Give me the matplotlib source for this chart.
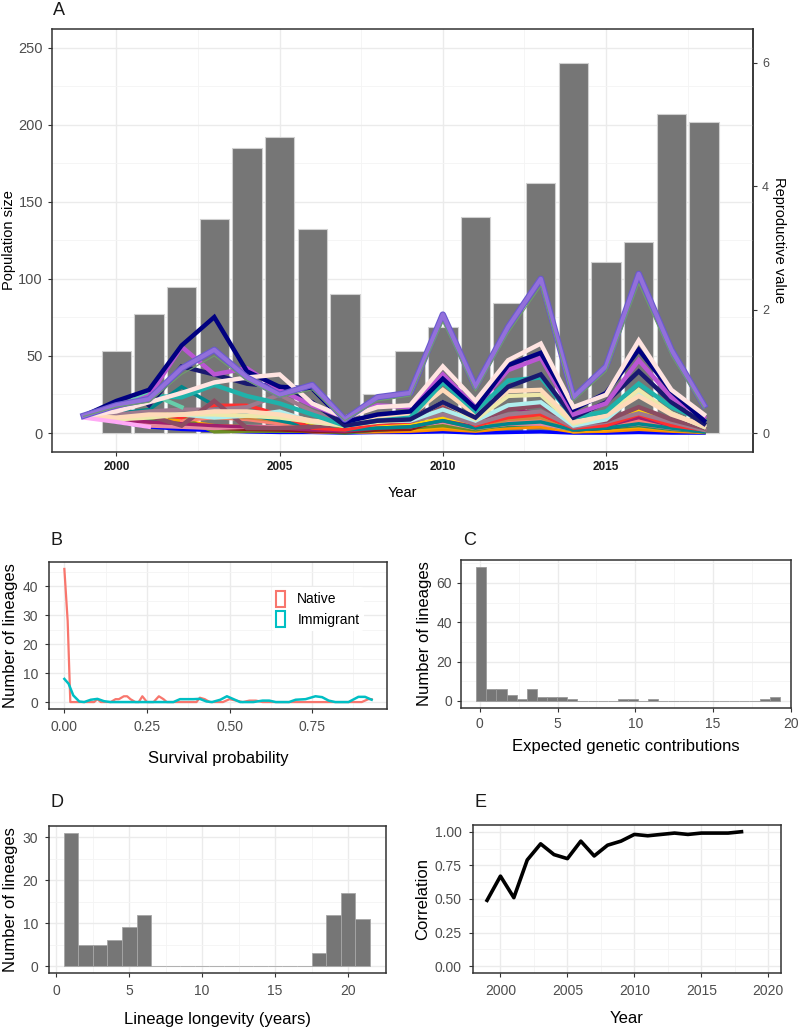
import numpy as np
import matplotlib
matplotlib.use("Agg")
import matplotlib.pyplot as plt
from matplotlib.patches import Patch

plt.rcParams['font.family'] = ['Liberation Sans', 'DejaVu Sans']

""" Panel A data """
bar_years = list(range(2000, 2019))
pop_size = [53, 77, 95, 139, 185, 192, 132, 90, 25, 53, 69, 140, 84, 162, 240, 111, 124, 207, 202]

line_years = list(range(1999, 2019))
# reproductive value of each lineage (None = lineage not yet present / gone)
rv_blue = [0.28, 0.18, 0.1, 0.06, 0.04, 0.02, 0.01, 0.01, 0.0, 0.01, 0.01, 0.02, 0.0, 0.01, 0.02, 0.0, 0.0, 0.01, 0.0, 0.0]
rv_darkorange = [0.28, 0.22, 0.18, 0.15, 0.1, 0.08, 0.05, 0.02, 0.01, 0.02, 0.03, 0.06, 0.03, 0.08, 0.1, 0.02, 0.03, 0.06, 0.03, 0.01]
rv_orange = [0.28, 0.25, 0.22, 0.2, 0.12, 0.1, 0.08, 0.05, 0.02, 0.05, 0.05, 0.1, 0.05, 0.12, 0.15, 0.02, 0.05, 0.1, 0.05, 0.02]
rv_seagreen = [0.28, 0.25, 0.2, 0.15, 0.05, 0.08, 0.06, 0.04, 0.0, 0.05, 0.08, 0.15, 0.08, 0.12, 0.15, 0.05, 0.08, 0.12, 0.06, 0.02]
rv_olive = [0.28, 0.3, 0.38, 0.25, 0.02, 0.03, 0.03, 0.03, 0.02, 0.05, 0.08, 0.12, 0.05, 0.15, 0.2, 0.05, 0.08, 0.15, 0.08, 0.02]
rv_darkred = [0.28, 0.2, 0.15, 0.12, 0.08, 0.06, 0.05, 0.03, 0.02, 0.05, 0.06, 0.22, 0.1, 0.18, 0.22, 0.05, 0.08, 0.15, 0.08, 0.03]
rv_lightpink = [0.28, 0.2, 0.12, 0.1, 0.08, 0.1, 0.1, 0.1, 0.1, 0.12, 0.12, 0.18, 0.08, 0.15, 0.15, 0.06, 0.1, 0.15, 0.08, 0.04]
rv_paleviolet = [None, None, None, None, None, None, None, None, 0.08, 0.12, 0.12, 0.2, 0.1, 0.15, 0.2, 0.08, 0.12, 0.22, 0.12, 0.05]
rv_salmon = [None, None, None, 0.2, 0.25, 0.22, 0.15, 0.1, 0.08, 0.1, 0.1, 0.22, 0.1, 0.2, 0.22, 0.08, 0.1, 0.2, 0.1, 0.05]
rv_peru = [0.28, 0.24, 0.26, 0.28, 0.25, 0.25, 0.2, 0.1, 0.05, 0.1, 0.12, 0.2, 0.08, 0.22, 0.25, 0.06, 0.1, 0.28, 0.15, 0.05]
rv_gold = [0.28, 0.26, 0.28, 0.3, 0.3, 0.32, 0.28, 0.15, 0.08, 0.12, 0.12, 0.25, 0.1, 0.28, 0.3, 0.08, 0.15, 0.38, 0.18, 0.06]
rv_violetred = [0.28, 0.2, 0.18, 0.15, 0.12, 0.1, 0.08, 0.05, 0.03, 0.08, 0.1, 0.2, 0.1, 0.42, 0.3, 0.08, 0.12, 0.25, 0.12, 0.03]
rv_darkcyan = [0.28, 0.32, 0.38, 0.75, 0.45, 0.3, 0.2, 0.1, 0.05, 0.08, 0.1, 0.2, 0.08, 0.15, 0.18, 0.05, 0.08, 0.15, 0.08, 0.02]
rv_red = [0.28, 0.3, 0.32, 0.25, 0.45, 0.45, 0.3, 0.08, 0.05, 0.15, 0.18, 0.42, 0.12, 0.25, 0.3, 0.08, 0.12, 0.3, 0.12, 0.05]
rv_mauve = [0.28, 0.3, 0.35, 0.38, 0.38, 0.42, 0.62, 0.35, 0.15, 0.18, 0.2, 0.3, 0.15, 0.3, 0.35, 0.1, 0.18, 0.32, 0.18, 0.05]
rv_rosewood = [None, None, 0.28, 0.12, 0.52, 0.08, 0.08, 0.1, 0.15, 0.25, 0.32, 0.4, 0.22, 0.38, 0.45, 0.15, 0.2, 0.42, 0.22, 0.08]
rv_paleturq = [0.25, 0.22, 0.28, 0.3, 0.25, 0.28, 0.35, 0.18, 0.12, 0.2, 0.2, 0.38, 0.2, 0.45, 0.5, 0.12, 0.22, 0.65, 0.32, 0.1]
rv_khaki = [0.28, 0.22, 0.25, 0.3, 0.3, 0.28, 0.25, 0.18, 0.12, 0.18, 0.22, 0.5, 0.22, 0.6, 0.62, 0.15, 0.28, 0.7, 0.32, 0.1]
rv_peach = [0.28, 0.25, 0.3, 0.3, 0.35, 0.35, 0.3, 0.2, 0.15, 0.25, 0.28, 0.7, 0.3, 0.68, 0.7, 0.18, 0.28, 0.6, 0.3, 0.12]
rv_pink = [0.25, 0.18, 0.1, None, None, None, None, None, None, None, None, None, None, None, None, None, None, None, None, None]
rv_aquamarine = [0.28, 0.42, 0.65, 0.42, None, None, None, None, None, None, None, None, None, None, None, None, None, None, None, None]
rv_teal = [0.28, 0.38, 0.6, 0.58, 0.78, 0.6, 0.48, 0.3, 0.12, 0.2, 0.25, 0.82, 0.35, 0.85, 0.9, 0.25, 0.35, 0.8, 0.42, 0.2]
rv_midnight = [None, None, 0.45, 1.08, 0.95, 0.8, 0.75, 0.5, 0.12, 0.2, 0.22, 0.5, 0.25, 0.75, 0.95, 0.25, 0.5, 1.0, 0.5, 0.15]
rv_orchid = [0.28, 0.4, 0.6, 1.4, 0.95, 1.05, 0.7, 0.45, 0.25, 0.45, 0.42, 0.95, 0.42, 1.02, 1.22, 0.3, 0.48, 1.18, 0.58, 0.25]
rv_navy = [0.28, 0.52, 0.7, 1.42, 1.88, 1.0, 0.75, 0.72, 0.18, 0.3, 0.35, 0.88, 0.4, 1.1, 1.3, 0.38, 0.65, 1.35, 0.68, 0.2]
rv_misty = [0.28, 0.35, 0.5, 0.65, 0.82, 0.9, 0.95, 0.48, 0.25, 0.42, 0.45, 1.08, 0.52, 1.18, 1.45, 0.42, 0.62, 1.5, 0.7, 0.3]
rv_purple = [0.28, 0.45, 0.55, 1.05, 1.35, 0.9, 0.62, 0.78, 0.22, 0.58, 0.65, 1.92, 0.75, 1.72, 2.5, 0.58, 1.08, 2.58, 1.35, 0.45]
rv_sage = [0.27, 0.42, 0.5, 0.95, 1.25, 0.85, 0.58, 0.7, 0.2, 0.52, 0.6, 1.8, 0.68, 1.62, 2.38, 0.52, 1.0, 2.42, 1.25, 0.4]

""" Panel B data (frequency polygons) """
native_x = [0.0, 0.01, 0.018, 0.09, 0.1, 0.11, 0.14, 0.155, 0.165, 0.18, 0.19, 0.2, 0.215, 0.225, 0.236, 0.25,
            0.27, 0.286, 0.3, 0.31, 0.4, 0.41, 0.425, 0.44, 0.48, 0.5, 0.52, 0.54, 0.56, 0.58, 0.6, 0.9, 0.92, 0.93]
native_n = [46, 28, 0, 0, 1, 0, 0, 1, 1, 2, 2, 1, 0, 0, 2, 0,
            0, 2, 1, 0, 0, 1.5, 1, 0, 0, 1, 0.5, 0, 0.5, 0.5, 0, 0, 1, 1]
immigrant_x = [0.0, 0.013, 0.027, 0.045, 0.06, 0.08, 0.1, 0.12, 0.14, 0.33, 0.35, 0.39, 0.41, 0.43, 0.447, 0.472,
               0.492, 0.512, 0.532, 0.572, 0.6, 0.62, 0.64, 0.68, 0.7, 0.73, 0.76, 0.78, 0.8, 0.82, 0.86, 0.89,
               0.91, 0.93]
immigrant_n = [8, 6.3, 2.3, 0.2, 0, 0.8, 1.1, 0.3, 0, 0, 1, 1, 1.1, 0.2, 0, 0.8,
               2, 1, 0, 0, 0.5, 0.5, 0, 0, 0.8, 1, 2, 1.7, 0.5, 0, 0, 1.8,
               1.8, 0.8]

""" Panel C data (histogram, 30 bins) """
contrib_counts = [68, 6, 6, 3, 1, 6, 2, 2, 2, 1, 0, 0, 0, 0, 1, 1, 0, 1, 0, 0,
                  0, 0, 0, 0, 0, 0, 0, 0, 1, 2]
contrib_start = -0.22
contrib_binwidth = 0.65

""" Panel D data """
longevity_years = list(range(1, 22))
longevity_counts = [31, 5, 5, 6, 9, 12, 0, 0, 0, 0, 0, 0, 0, 0, 0, 0, 0, 3, 12, 17, 11]

""" Panel E data """
corr_years = list(range(1999, 2019))
correlation = [0.49, 0.67, 0.51, 0.79, 0.91, 0.83, 0.80, 0.93, 0.82, 0.90, 0.93, 0.98, 0.97, 0.98, 0.99, 0.98,
               0.99, 0.99, 0.99, 1.0]

RV_SCALE = 40  # population units per unit of reproductive value
BORDER = '#333333'
GRID = '#EBEBEB'
TICKLAB = '#4D4D4D'
BAR = '#767676'


def theme_bw(ax, xmaj, xmin, ymaj, ymin, labelsize=8.5, pad=3.5):
    ax.set_xticks(xmaj)
    ax.set_xticks(xmin, minor=True)
    ax.set_yticks(ymaj)
    ax.set_yticks(ymin, minor=True)
    ax.grid(which='major', color=GRID, lw=1.0)
    ax.grid(which='minor', color='#F4F4F4', lw=0.6)
    ax.set_axisbelow(True)
    ax.tick_params(which='minor', length=0)
    ax.tick_params(which='major', length=3, width=0.8, color=BORDER, labelcolor=TICKLAB,
                   labelsize=labelsize, pad=pad)
    for s in ax.spines.values():
        s.set_color(BORDER)
        s.set_linewidth(1.1)


fig = plt.figure(figsize=(8, 10.29), dpi=100)

# ---------------- A ----------------
axA = fig.add_axes([52 / 800, 1 - 452 / 1029, 701 / 800, 423 / 1029])
axA.bar(bar_years, pop_size, width=0.9, color=BAR, edgecolor='#D0D0D0', lw=0.8, zorder=2)

lineages = [
    (rv_blue, '#0000FF', 2.5), (rv_darkorange, '#FF8C00', 2.5), (rv_orange, '#FFA500', 2.5),
    (rv_seagreen, '#2E8B57', 2.5), (rv_olive, '#6B8E23', 2.5), (rv_darkred, '#8B1A1A', 2.5),
    (rv_lightpink, '#E8879F', 3), (rv_paleviolet, '#D8708F', 3), (rv_salmon, '#FA8072', 2.5),
    (rv_peru, '#CD853F', 2.5), (rv_gold, '#FFD700', 2.5), (rv_violetred, '#A0206E', 2.5),
    (rv_darkcyan, '#00868B', 2.5), (rv_red, '#FF3030', 2.5), (rv_mauve, '#9E7A8E', 3),
    (rv_rosewood, '#8B4C62', 3.2), (rv_paleturq, '#AFEEEE', 3), (rv_khaki, '#EEE8AA', 3),
    (rv_peach, '#FFDAB9', 3.2), (rv_pink, '#FFAAF5', 3), (rv_aquamarine, '#66CDAA', 3),
    (rv_teal, '#20B2AA', 3.2), (rv_midnight, '#191970', 3.2), (rv_orchid, '#BA55D3', 3.2),
    (rv_navy, '#000080', 3.2), (rv_misty, '#FFE4E1', 3.2),
]
for vals, col, lw in lineages:
    v = np.array(vals, dtype=float) * RV_SCALE
    axA.plot(line_years, v, color=col, lw=lw, zorder=3, solid_joinstyle='miter')
pv = np.array(rv_purple, dtype=float) * RV_SCALE
axA.plot(line_years, pv, color='#6A5ACD', lw=4.6, zorder=4)
axA.plot(line_years, pv, color='#9370DB', lw=3.0, zorder=4)
axA.plot(line_years, np.array(rv_sage, dtype=float) * RV_SCALE, color='#6E9E6E', lw=0.8, zorder=4)

axA.set_xlim(1998.03, 2019.5)
axA.set_ylim(-12.3, 262)
theme_bw(axA, [2000, 2005, 2010, 2015], [2002.5, 2007.5, 2012.5, 2017.5],
         [0, 50, 100, 150, 200, 250], [25, 75, 125, 175, 225], labelsize=10.5)
for lab in axA.get_xticklabels():
    lab.set_fontsize(8.5)
    lab.set_color('#1A1A1A')
    lab.set_fontweight('bold')
axA.set_xlabel('Year', fontsize=10.5, labelpad=9)
axA.set_ylabel('Population size', fontsize=10.5, labelpad=2)
sec = axA.secondary_yaxis('right', functions=(lambda y: y / RV_SCALE, lambda y: y * RV_SCALE))
sec.set_yticks([0, 2, 4, 6])
sec.tick_params(length=3, width=0.8, color=BORDER, labelcolor=TICKLAB, labelsize=9)
sec.spines['right'].set_color(BORDER)
sec.spines['right'].set_linewidth(1.1)
sec.set_ylabel('Reproductive value', rotation=270, fontsize=10.5, labelpad=12)

# ---------------- B ----------------
axB = fig.add_axes([49 / 800, 1 - 709 / 1029, 338 / 800, 147 / 1029])
axB.plot(native_x, native_n, color='#F8766D', lw=1.6)
axB.plot(immigrant_x, immigrant_n, color='#00BFC4', lw=1.8)
axB.set_xlim(-0.0465, 0.9765)
axB.set_ylim(-2.4, 48.4)
theme_bw(axB, [0, 0.25, 0.5, 0.75], [0.125, 0.375, 0.625, 0.875],
         [0, 10, 20, 30, 40], [5, 15, 25, 35, 45], labelsize=10, pad=5)
axB.set_xticklabels(['0.00', '0.25', '0.50', '0.75'])
axB.set_xlabel('Survival probability', fontsize=12, labelpad=12)
axB.set_ylabel('Number of lineages', fontsize=12, labelpad=3)
handles = [Patch(facecolor='white', edgecolor='#F8766D', lw=1.5, label='Native'),
           Patch(facecolor='white', edgecolor='#00BFC4', lw=1.5, label='Immigrant')]
leg = axB.legend(handles=handles, loc='upper left', bbox_to_anchor=(0.64, 0.88), frameon=True,
                 facecolor='white', edgecolor='none', framealpha=1, fontsize=10,
                 handlelength=0.6, handleheight=1.4, handletextpad=0.9, labelspacing=0.3, borderpad=0.3)

# ---------------- C ----------------
axC = fig.add_axes([461 / 800, 1 - 708 / 1029, 330 / 800, 148 / 1029])
c_centers = contrib_start + contrib_binwidth * (np.arange(len(contrib_counts)) + 0.5)
axC.bar(c_centers, contrib_counts, width=contrib_binwidth, color=BAR, edgecolor='#9A9A9A', lw=0.6, zorder=2)
axC.set_xlim(-1.2, 19.95)
axC.set_ylim(-3.6, 71.6)
theme_bw(axC, [0, 5, 10, 15, 20], [2.5, 7.5, 12.5, 17.5], [0, 20, 40, 60], [10, 30, 50, 70], labelsize=10)
axC.set_xlabel('Expected genetic contributions', fontsize=12, labelpad=6)
axC.set_ylabel('Number of lineages', fontsize=12, labelpad=3)

# ---------------- D ----------------
axD = fig.add_axes([49 / 800, 1 - 973 / 1029, 337 / 800, 147 / 1029])
axD.bar(longevity_years, longevity_counts, width=1.0, color=BAR, edgecolor='#A6A6A6', lw=0.6, zorder=2)
axD.set_xlim(-0.5, 22.6)
axD.set_ylim(-1.6, 32.6)
theme_bw(axD, [0, 5, 10, 15, 20], [2.5, 7.5, 12.5, 17.5, 22.5], [0, 10, 20, 30], [5, 15, 25],
         labelsize=10, pad=5)
axD.set_xlabel('Lineage longevity (years)', fontsize=12, labelpad=10)
axD.set_ylabel('Number of lineages', fontsize=12, labelpad=3)

# ---------------- E ----------------
axE = fig.add_axes([473 / 800, 1 - 973 / 1029, 308 / 800, 148 / 1029])
axE.plot(corr_years, correlation, color='black', lw=2.6)
axE.set_xlim(1997.95, 2020.95)
axE.set_ylim(-0.05, 1.05)
theme_bw(axE, [2000, 2005, 2010, 2015, 2020], [2002.5, 2007.5, 2012.5, 2017.5],
         [0, 0.25, 0.5, 0.75, 1.0], [0.125, 0.375, 0.625, 0.875], labelsize=10, pad=5)
axE.set_yticklabels(['0.00', '0.25', '0.50', '0.75', '1.00'])
axE.set_xlabel('Year', fontsize=12, labelpad=9)
axE.set_ylabel('Correlation', fontsize=12, labelpad=3)

# panel letters
for letter, x, y in [('A', 53, 15), ('B', 50, 545), ('C', 463, 545), ('D', 50, 807), ('E', 475, 807)]:
    fig.text(x / 800, 1 - y / 1029, letter, fontsize=13, va='baseline', ha='left', color='#1A1A1A')

fig.savefig('out.png', dpi=100)
